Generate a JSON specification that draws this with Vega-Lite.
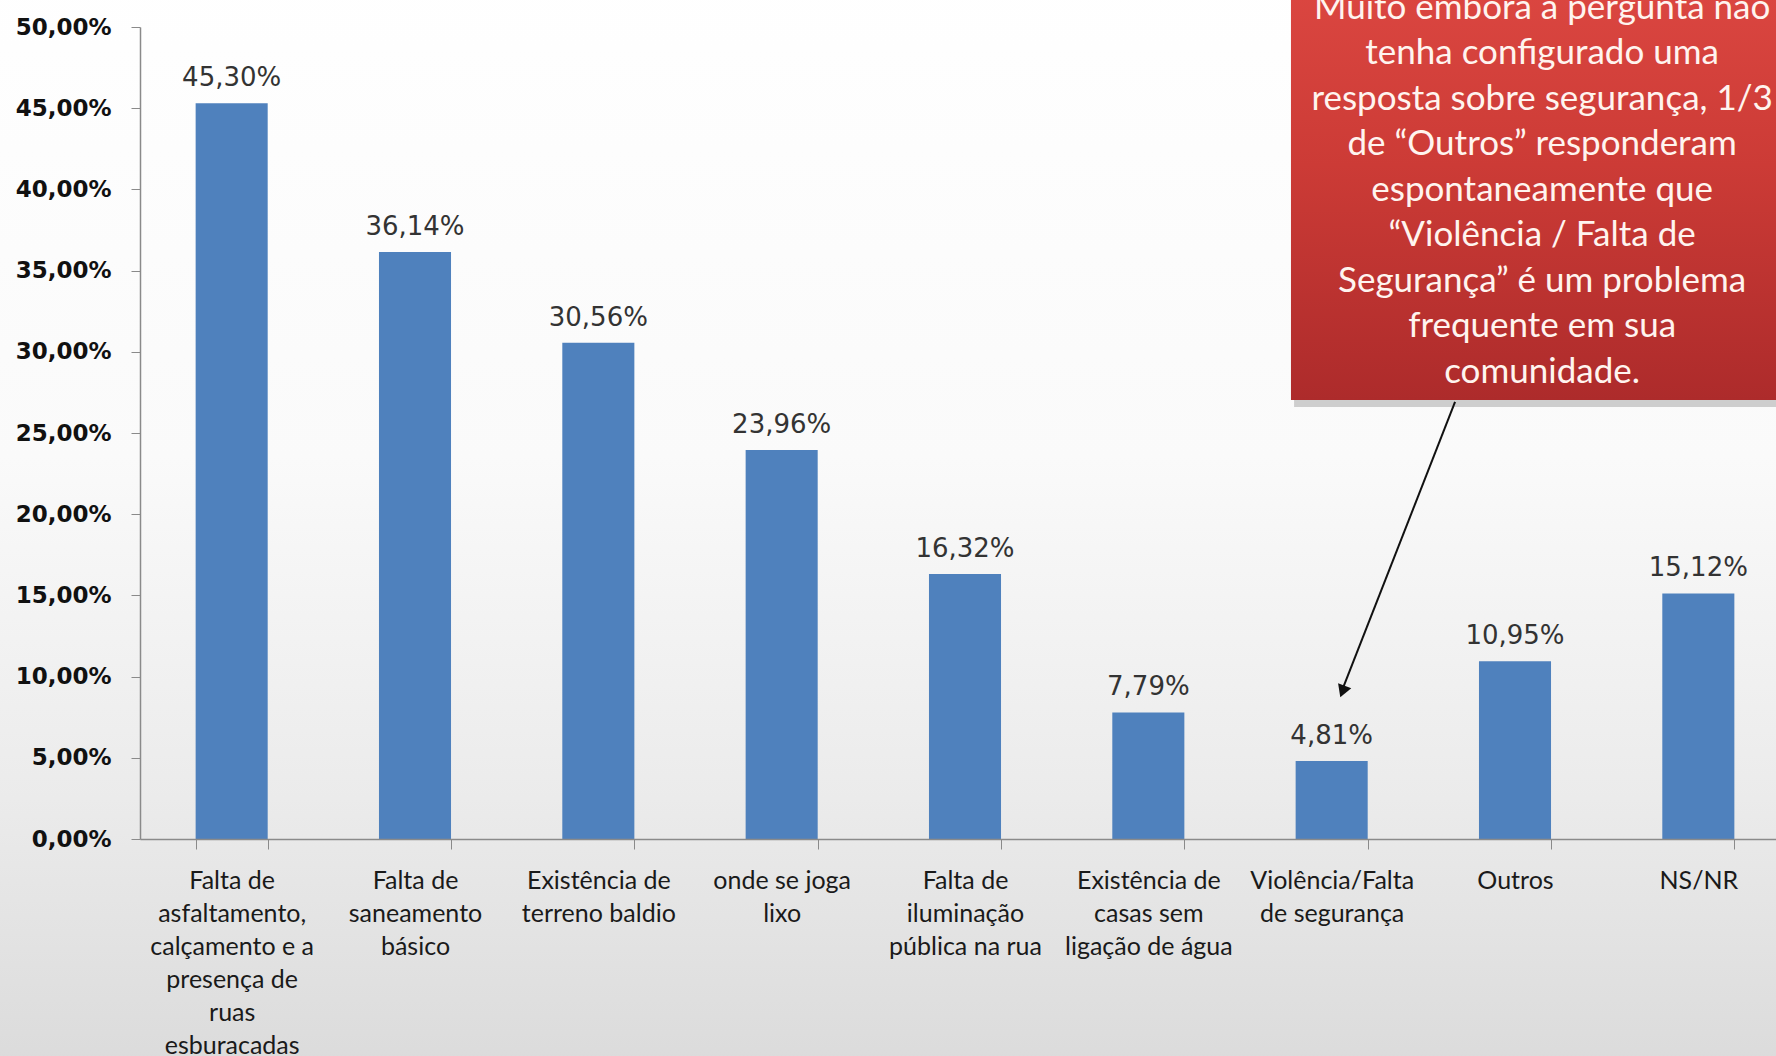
{
  "$schema": "https://vega.github.io/schema/vega-lite/v6.json",
  "width": 1636,
  "height": 812,
  "autosize": {"type": "none"},
  "padding": {"left": 140, "top": 27, "right": 0, "bottom": 217},
  "background": "#f0f0f0",
  "config": {
    "view": {"stroke": null},
    "locale": {"number": {"decimal": ",", "thousands": ".", "grouping": [3], "currency": ["R$", ""]}}
  },
  "resolve": {"scale": {"x": "independent"}, "axis": {"x": "independent", "y": "independent"}},
  "layer": [
    {
      "data": {"values": [{"u": -1, "u2": 10, "v": -0.15, "v2": 0.55}]},
      "mark": {
        "type": "rect",
        "color": {"gradient": "linear", "x1": 0, "y1": 0, "x2": 0, "y2": 1,
          "stops": [{"offset": 0, "color": "#ffffff"}, {"offset": 0.45, "color": "#fafafa"}, {"offset": 0.75, "color": "#ebebeb"}, {"offset": 1, "color": "#dadada"}]}
      },
      "encoding": {
        "x": {"field": "u", "type": "quantitative", "scale": {"domain": [0, 9], "range": [0, 1650], "nice": false, "zero": false}, "axis": null},
        "x2": {"field": "u2"},
        "y": {"field": "v", "type": "quantitative", "scale": {"domain": [0, 0.5], "nice": false}, "axis": null},
        "y2": {"field": "v2"}
      }
    },
    {
      "data": {"values": [
        {"cat": "Falta de|asfaltamento,|calçamento e a|presença de|ruas|esburacadas", "v": 0.4530},
        {"cat": "Falta de|saneamento|básico", "v": 0.3614},
        {"cat": "Existência de|terreno baldio", "v": 0.3056},
        {"cat": "onde se joga|lixo", "v": 0.2396},
        {"cat": "Falta de|iluminação|pública na rua", "v": 0.1632},
        {"cat": "Existência de|casas sem|ligação de água", "v": 0.0779},
        {"cat": "Violência/Falta|de segurança", "v": 0.0481},
        {"cat": "Outros", "v": 0.1095},
        {"cat": "NS/NR", "v": 0.1512}
      ]},
      "encoding": {
        "x": {
          "field": "cat", "type": "nominal", "sort": null,
          "scale": {"range": [0, 1650], "paddingInner": 0.607, "paddingOuter": 0.3035},
          "axis": {
            "title": null, "labelAngle": 0, "zindex": 1,
            "labelExpr": "split(datum.label, '|')",
            "labelFont": "Lato", "labelFontSize": 25, "labelColor": "#1a1a1a",
            "labelLineHeight": 33, "labelPadding": 19, "labelBaseline": "top",
            "labelLimit": 0,
            "tickBand": "extent", "tickSize": 10, "tickColor": "#8a8a8a",
            "domainColor": "#8a8a8a", "domainWidth": 1.5, "grid": false
          }
        },
        "y": {
          "field": "v", "type": "quantitative",
          "scale": {"domain": [0, 0.5], "nice": false},
          "axis": {
            "title": null, "format": ".2%", "zindex": 1,
            "values": [0, 0.05, 0.1, 0.15, 0.2, 0.25, 0.3, 0.35, 0.4, 0.45, 0.5],
            "labelFont": "DejaVu Sans", "labelFontWeight": "bold", "labelFontSize": 23,
            "labelColor": "#111111", "labelPadding": 20, "tickSize": 9,
            "tickColor": "#8a8a8a", "domainColor": "#8a8a8a", "domainWidth": 1.5, "grid": false
          }
        }
      },
      "layer": [
        {"mark": {"type": "bar", "color": "#4f81bd"}},
        {
          "mark": {"type": "text", "baseline": "alphabetic", "dy": -17, "font": "DejaVu Sans", "fontSize": 26, "color": "#333333"},
          "encoding": {"text": {"field": "v", "type": "quantitative", "format": ".2%"}}
        }
      ]
    },
    {
      "data": {"values": [{"u": 6.295, "u2": 9.4, "v": 0.266, "v2": 0.56}]},
      "mark": {"type": "rect", "color": "#7a7a7a", "opacity": 0.35},
      "encoding": {
        "x": {"field": "u", "type": "quantitative", "scale": {"domain": [0, 9], "range": [0, 1650], "nice": false, "zero": false}, "axis": null},
        "x2": {"field": "u2"},
        "y": {"field": "v", "type": "quantitative", "scale": {"domain": [0, 0.5], "nice": false}, "axis": null},
        "y2": {"field": "v2"}
      }
    },
    {
      "data": {"values": [{"u": 6.278, "u2": 9.4, "v": 0.2703, "v2": 0.56}]},
      "mark": {
        "type": "rect",
        "color": {"gradient": "linear", "x1": 0, "y1": 0, "x2": 0, "y2": 1,
          "stops": [{"offset": 0, "color": "#e04a44"}, {"offset": 0.5, "color": "#cc3b36"}, {"offset": 1, "color": "#ad2b2b"}]}
      },
      "encoding": {
        "x": {"field": "u", "type": "quantitative", "scale": {"domain": [0, 9], "range": [0, 1650], "nice": false, "zero": false}, "axis": null},
        "x2": {"field": "u2"},
        "y": {"field": "v", "type": "quantitative", "scale": {"domain": [0, 0.5], "nice": false}, "axis": null},
        "y2": {"field": "v2"}
      }
    },
    {
      "data": {"values": [{"u": 7.648, "v": 0.5117, "lines": ["Muito embora a pergunta não", "tenha configurado uma", "resposta sobre segurança, 1/3", "de “Outros” responderam", "espontaneamente que", "“Violência / Falta de", "Segurança” é um problema", "frequente em sua", "comunidade."]}]},
      "mark": {"type": "text", "align": "center", "baseline": "middle", "lineHeight": 45.5, "font": "Lato", "fontSize": 35, "color": "#fff4ef"},
      "encoding": {
        "x": {"field": "u", "type": "quantitative", "scale": {"domain": [0, 9], "range": [0, 1650], "nice": false, "zero": false}, "axis": null},
        "y": {"field": "v", "type": "quantitative", "scale": {"domain": [0, 0.5], "nice": false}, "axis": null},
        "text": {"field": "lines"}
      }
    },
    {
      "data": {"values": [{"u": 7.173, "v": 0.2691, "u2": 6.562, "v2": 0.093}]},
      "mark": {"type": "rule", "color": "#111111", "strokeWidth": 2},
      "encoding": {
        "x": {"field": "u", "type": "quantitative", "scale": {"domain": [0, 9], "range": [0, 1650], "nice": false, "zero": false}, "axis": null},
        "x2": {"field": "u2"},
        "y": {"field": "v", "type": "quantitative", "scale": {"domain": [0, 0.5], "nice": false}, "axis": null},
        "y2": {"field": "v2"}
      }
    },
    {
      "data": {"values": [{"u": 6.559, "v": 0.0908}]},
      "mark": {"type": "point", "shape": "triangle-down", "filled": true, "color": "#111111", "opacity": 1, "size": 200, "angle": 21},
      "encoding": {
        "x": {"field": "u", "type": "quantitative", "scale": {"domain": [0, 9], "range": [0, 1650], "nice": false, "zero": false}, "axis": null},
        "y": {"field": "v", "type": "quantitative", "scale": {"domain": [0, 0.5], "nice": false}, "axis": null}
      }
    }
  ]
}
